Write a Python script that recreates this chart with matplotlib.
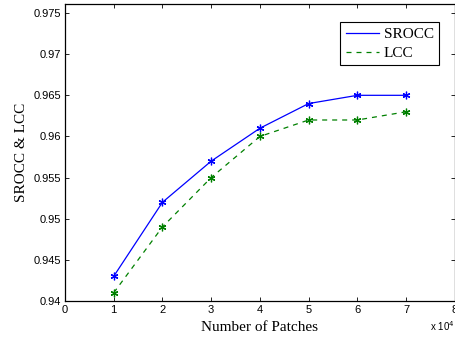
import matplotlib
matplotlib.use('Agg')
import matplotlib.pyplot as plt

patches = [1, 2, 3, 4, 5, 6, 7]
srocc = [0.943, 0.952, 0.957, 0.961, 0.964, 0.965, 0.965]
lcc = [0.941, 0.949, 0.955, 0.960, 0.962, 0.962, 0.963]
xticks = [0, 1, 2, 3, 4, 5, 6, 7, 8]
yticks = [0.94, 0.945, 0.95, 0.955, 0.96, 0.965, 0.97, 0.975]

fig = plt.figure(figsize=(4.56, 3.41), dpi=100)
ax = fig.add_axes([0.1425, 0.1173, 0.855, 0.871])

# MATLAB-style asterisk marker
star = (6, 2, 0)
ax.plot(patches, srocc, '-', color='#0000ff', lw=0.9, marker=star, ms=5.5, mew=0.9,
        label='SROCC')
ax.plot(patches, lcc, '--', color='#008000', lw=0.9, marker=star, ms=5.5, mew=0.9,
        dashes=(4, 4), label='LCC')

ax.set_xlim(0, 8)
ax.set_ylim(0.94, 0.9761)
ax.set_xticks(xticks)
ax.set_yticks(yticks)
ax.set_xticklabels([str(t) for t in xticks], family='Liberation Sans', fontsize=8)
ax.set_yticklabels(['0.94', '0.945', '0.95', '0.955', '0.96', '0.965', '0.97', '0.975'],
                   family='Liberation Sans', fontsize=8)
ax.tick_params(direction='in', top=True, right=True, length=3, width=0.6, pad=3)
for s in ax.spines.values():
    s.set_linewidth(0.9)

ax.set_xlabel('Number of Patches', family='Liberation Serif', fontsize=11, labelpad=4)
ax.set_ylabel('SROCC & LCC', family='Liberation Serif', fontsize=11, labelpad=4)
fig.text(0.944, 0.028, 'x 10$^4$', family='Liberation Sans', fontsize=7)

leg = ax.legend(loc='upper right', bbox_to_anchor=(0.96, 0.94), fancybox=False,
                edgecolor='black', framealpha=1,
                prop={'family': 'Liberation Serif', 'size': 11},
                handlelength=2.2, borderpad=0.35, labelspacing=0.35, handletextpad=0.3,
                borderaxespad=0)
leg.get_frame().set_linewidth(0.8)
for h in leg.legend_handles:
    h.set_marker('')

fig.savefig('out.png', dpi=100)
